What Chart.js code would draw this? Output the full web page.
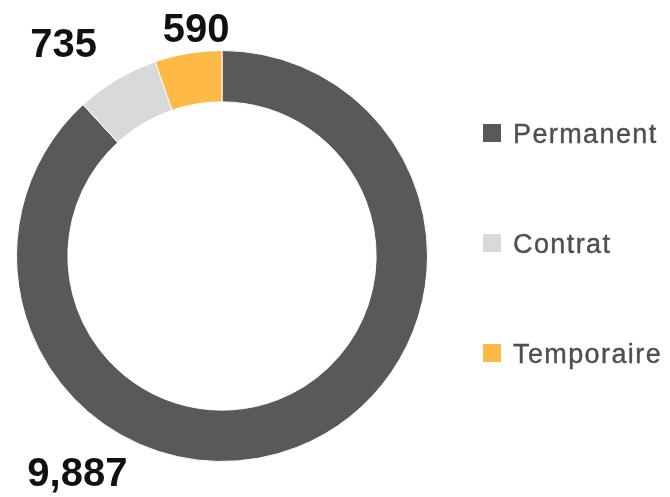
<!DOCTYPE html>
<html>
<head>
<meta charset="utf-8">
<script src="https://cdn.jsdelivr.net/npm/chart.js@4/dist/chart.umd.min.js"></script>
<style>
  html, body { margin: 0; padding: 0; background: #ffffff; }
  #wrap { width: 670px; height: 497px; position: relative; }
</style>
</head>
<body>
<div id="wrap"><canvas id="c" width="670" height="497"></canvas></div>
<script>
// ---- data ----
const categories = ['Permanent', 'Contrat', 'Temporaire'];
const values = [9887, 735, 590];

// ---- styles ----
const sliceColors = ['#595959', '#d9d9d9', '#ffb946'];
const fmt = v => v.toLocaleString('en-US');

const valueLabels = {
  id: 'valueLabels',
  afterDatasetsDraw(chart, args, o) {
    const meta = chart.getDatasetMeta(0);
    const ctx = chart.ctx;
    ctx.save();
    ctx.font = o.font;
    ctx.fillStyle = o.color;
    ctx.textAlign = 'center';
    ctx.textBaseline = 'middle';
    meta.data.forEach((arc, i) => {
      const p = o.placement[i];
      const a = (p.angle - 90) * Math.PI / 180;
      const r = arc.outerRadius * p.dist;
      ctx.fillText(fmt(chart.data.datasets[0].data[i]), arc.x + r * Math.cos(a), arc.y + r * Math.sin(a));
    });
    ctx.restore();
  }
};

const sideLegend = {
  id: 'sideLegend',
  afterDraw(chart, args, o) {
    const ctx = chart.ctx;
    const ds = chart.data.datasets[0];
    ctx.save();
    ctx.font = o.font;
    if ('letterSpacing' in ctx) ctx.letterSpacing = o.letterSpacing;
    ctx.textAlign = 'left';
    ctx.textBaseline = 'alphabetic';
    chart.data.labels.forEach((lab, i) => {
      const cy = o.top + i * o.spacing;
      ctx.fillStyle = ds.backgroundColor[i];
      ctx.fillRect(o.boxX, cy - o.box / 2, o.box, o.box);
      ctx.fillStyle = o.color;
      ctx.strokeStyle = o.color;
      ctx.lineWidth = 0.4;
      ctx.fillText(lab, o.textX, cy + o.capHalf);
      ctx.strokeText(lab, o.textX, cy + o.capHalf);
    });
    ctx.restore();
  }
};

new Chart(document.getElementById('c'), {
  type: 'doughnut',
  data: {
    labels: categories,
    datasets: [{
      data: values,
      backgroundColor: sliceColors,
      borderColor: '#ffffff',
      borderWidth: 1,
      hoverOffset: 0
    }]
  },
  options: {
    responsive: false,
    animation: false,
    cutout: '75%',
    layout: { padding: { left: 16, right: 242, top: 50, bottom: 35 } },
    plugins: {
      legend: { display: false },
      tooltip: { enabled: false },
      valueLabels: {
        font: 'bold 40px "Liberation Sans", Arial, sans-serif',
        color: '#111111',
        placement: [
          { angle: 213.5, dist: 1.275 },
          { angle: 323.0, dist: 1.28 },
          { angle: 353.4, dist: 1.10 }
        ]
      },
      sideLegend: {
        font: '27px "Liberation Sans", Arial, sans-serif',
        letterSpacing: '1.4px',
        color: '#4f4f4f',
        boxX: 483,
        box: 18,
        textX: 513,
        top: 133,
        spacing: 110,
        capHalf: 9.7
      }
    }
  },
  plugins: [valueLabels, sideLegend]
});
</script>
</body>
</html>
